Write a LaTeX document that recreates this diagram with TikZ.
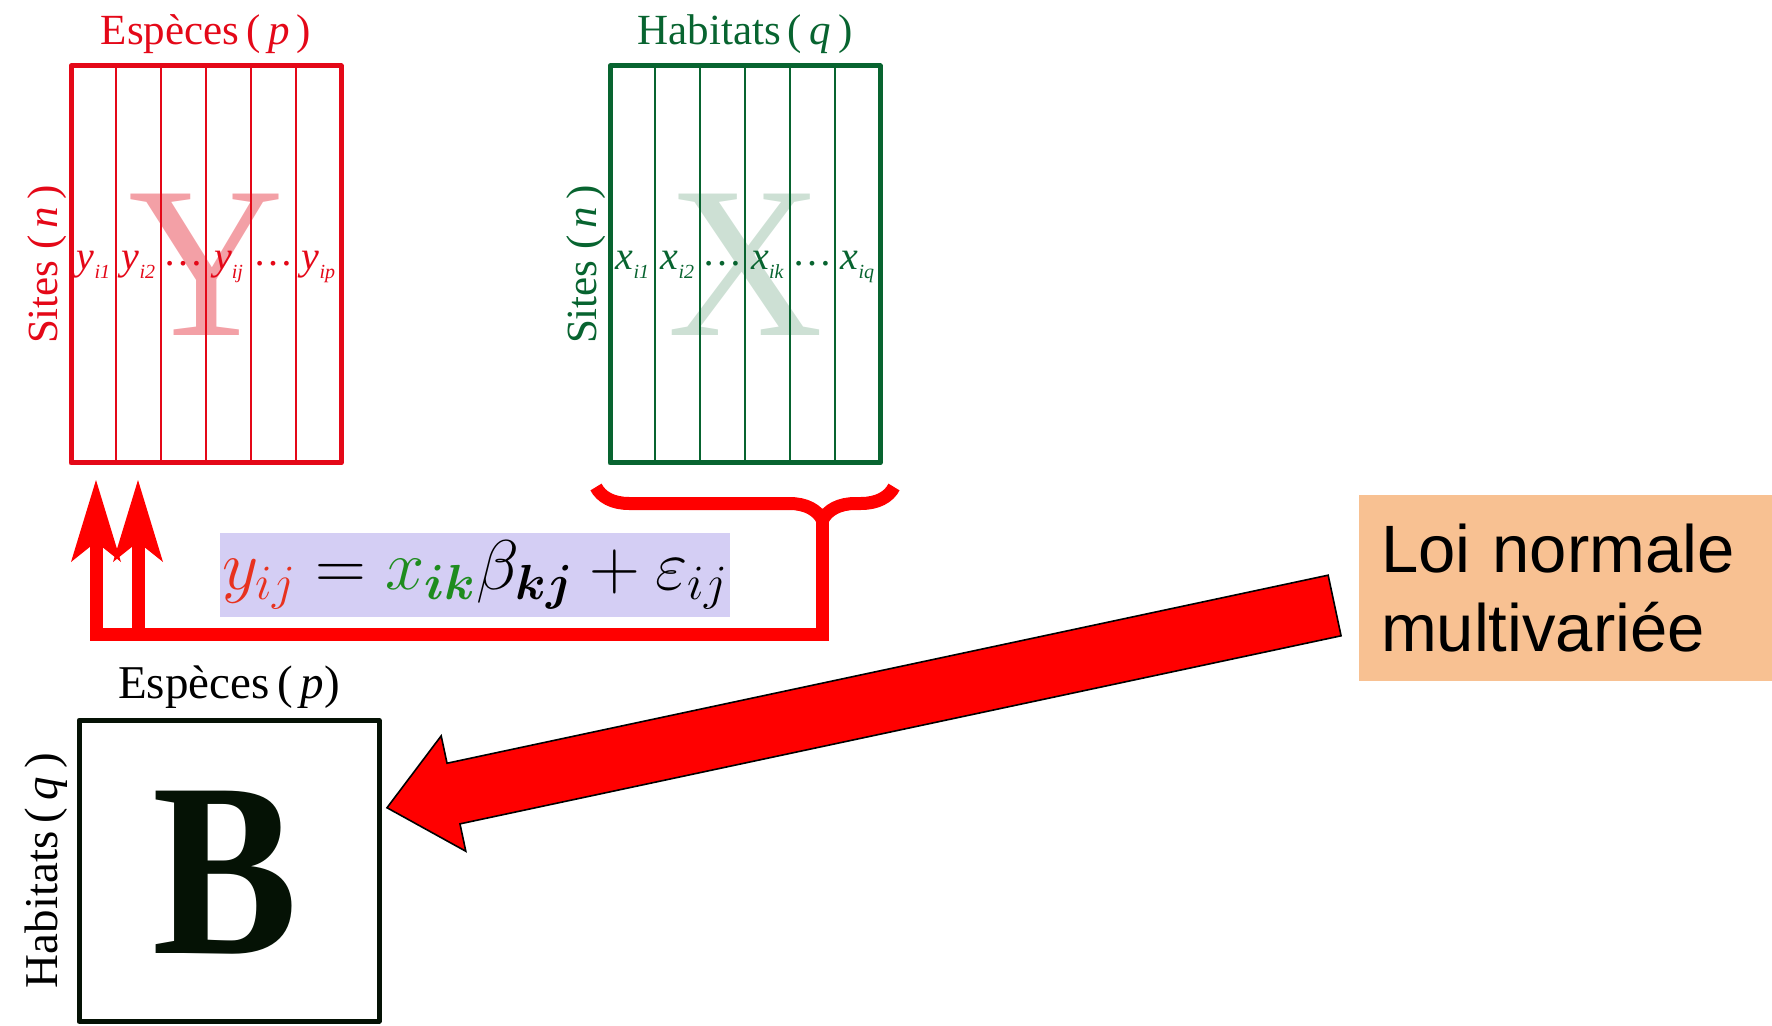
\RequirePackage{fix-cm}
\documentclass[tikz,border=0pt]{standalone}
\usepackage{amsmath,amssymb,bm}
\usepackage{graphicx}
\usepackage{fontspec}
\setmainfont{Liberation Serif}
\newfontfamily\arialfont{Liberation Sans}
\usepackage{xcolor}
\usepackage{tikz}
\usetikzlibrary{positioning, arrows.meta, calc, decorations.pathreplacing}

\definecolor{matred}{RGB}{228,8,24}
\definecolor{matgreen}{RGB}{8,100,48}
\definecolor{ypink}{RGB}{243,160,166}
\definecolor{xpale}{RGB}{205,224,212}
\definecolor{eqviolet}{RGB}{212,206,244}
\definecolor{eqred}{RGB}{232,50,30}
\definecolor{eqgreen}{RGB}{30,140,30}
\definecolor{loipeach}{RGB}{248,193,146}
\definecolor{bdark}{RGB}{5,18,5}

% matrix entry: letter with lowered index
\newcommand{\ent}[2]{\textit{#1}\raisebox{-4.5pt}{\fontsize{10}{10}\selectfont\textit{#2}}}
\newcommand{\entdots}{\raisebox{2pt}{\dots}}

\begin{document}
\begin{tikzpicture}[x=0.5pt, y=-0.5pt,
  matbox/.style={draw, line width=2.5pt, line join=round, minimum width=135pt, minimum height=198.5pt, inner sep=0pt, outer sep=0pt},
  colline/.style={line width=1pt},
  bigletter/.style={font=\fontsize{108}{108}\selectfont, inner sep=0pt},
  entry/.style={font=\fontsize{20}{20}\selectfont, anchor=base, inner sep=0pt},
  title/.style={font=\fontsize{21.5}{21.5}\selectfont, anchor=base, inner sep=0pt},
  sidelabel/.style={font=\fontsize{21.5}{21.5}\selectfont, rotate=90, anchor=base, inner sep=0pt},
  flow/.style={draw=red, line width=6.5pt},
  flowtip/.style={-{Stealth[length=41pt, width=25pt, inset=10pt, line width=0pt]}},
  eqbox/.style={fill=eqviolet, minimum width=255pt, minimum height=42pt, inner sep=0.5pt, font=\fontsize{35.2}{35.2}\selectfont},
  loibox/.style={fill=loipeach, minimum height=93pt, text width=184.5pt, inner xsep=11pt, align=left, font=\arialfont\fontsize{33.5}{39.5}\selectfont}
]
  \useasboundingbox (0,0) rectangle (1772,1026);

  % Y matrix
  \node[matbox, draw=matred] (ymat) at (206,264.5) {};
  \node[bigletter, text=ypink] at (ymat.center) {Y};
  \foreach \i in {1,...,5}
    \draw[colline, matred] ($(ymat.north west)!\i/6!(ymat.north east)$) -- ($(ymat.south west)!\i/6!(ymat.south east)$);
  \foreach \e [count=\i] in {\ent{y}{i1}, \ent{y}{i2}, \entdots, \ent{y}{ij}, \entdots, \ent{y}{ip}}
    \node[entry, text=matred] at ($(ymat.west)!{(\i-0.5)/6}!(ymat.east)+(0,5.5)$) {\e};
  \node[title, text=matred] (ytitle) at ([yshift=10.5pt]ymat.north) {Espèces\,(\,\textit{p}\,)};
  \node[sidelabel, text=matred] (ysites) at ([xshift=-7pt]ymat.west) {Sites (\,\textit{n}\,)};

  % X matrix
  \node[matbox, draw=matgreen] (xmat) at (745,264.5) {};
  \node[bigletter, text=xpale] at (xmat.center) {X};
  \foreach \i in {1,...,5}
    \draw[colline, matgreen] ($(xmat.north west)!\i/6!(xmat.north east)$) -- ($(xmat.south west)!\i/6!(xmat.south east)$);
  \foreach \e [count=\i] in {\ent{x}{i1}, \ent{x}{i2}, \entdots, \ent{x}{ik}, \entdots, \ent{x}{iq}}
    \node[entry, text=matgreen] at ($(xmat.west)!{(\i-0.5)/6}!(xmat.east)+(0,5.5)$) {\e};
  \node[title, text=matgreen] (xtitle) at ([yshift=10.5pt]xmat.north) {Habitats\,(\,\textit{q}\,)};
  \node[sidelabel, text=matgreen] (xsites) at ([xshift=-7pt]xmat.west) {Sites (\,\textit{n}\,)};

  % B matrix
  \node[draw=bdark, line width=2.5pt, line join=round, minimum width=150pt, minimum height=150.5pt, inner sep=0pt, outer sep=0pt] (bmat) at (229,870.75) {};
  \node[font=\bfseries\fontsize{124}{124}\selectfont, text=bdark, inner sep=0pt] at ([xshift=-2pt,yshift=-1pt]bmat.center) {\scalebox{0.88}[1]{B}};
  \node[title, font=\fontsize{23.5}{23.5}\selectfont] (btitle) at ([yshift=11pt]bmat.north) {Espèces\,(\,\textit{p})};
  \node[sidelabel, font=\fontsize{23.5}{23.5}\selectfont] (bhab) at ([xshift=-11pt]bmat.west) {Habitats\,(\,\textit{q}\,)};

  % model
  \node[eqbox] (eq) at (475,575) {${\color{eqred}y_{ij}} = {\color{eqgreen}x_{\bm{ik}}}\beta_{\bm{kj}} + \varepsilon_{ij}$};
  \node[loibox] (loi) at (1565.5,588) {Loi normale\\multivariée};

  % brace and feedback
  \coordinate (bl) at ([xshift=-7pt,yshift=-12pt]xmat.south west);
  \coordinate (br) at ([xshift=7pt,yshift=-12pt]xmat.south east);
  \draw[flow, decorate, decoration={brace, mirror, amplitude=16.5pt, aspect=0.76}] (bl) -- (br);
  \coordinate (btip) at ($(bl)!0.76!(br)+(0,33)$);
  \coordinate (ybase) at ([yshift=-8.5pt]eq.south);
  \coordinate (a1) at ([xshift=12.5pt,yshift=-8.5pt]ymat.south west);
  \coordinate (a2) at ([xshift=33.5pt,yshift=-8.5pt]ymat.south west);
  \draw[flow, line cap=rect] (btip) |- (a1 |- ybase);
  \draw[flow, flowtip] (a1 |- ybase) ++(0,6.5) -- (a1);
  \draw[flow, flowtip] (a2 |- ybase) ++(0,6.5) -- (a2);

  % block arrow
  \coordinate (atail) at ([xshift=-12pt,yshift=-8.75pt]loi.west);
  \coordinate (atip) at ([xshift=4pt,yshift=31.5pt]bmat.east);
  \coordinate (hb) at ($(atip)!34pt!(atail)$);
  \filldraw[fill=red, draw=black, line width=0.8pt, line join=miter]
    ($(atail)!15.5pt!90:(atip)$) -- ($(hb)!15.5pt!-90:(atail)$) -- ($(hb)!29.5pt!-90:(atail)$) -- (atip)
    -- ($(hb)!29.5pt!90:(atail)$) -- ($(hb)!15.5pt!90:(atail)$) -- ($(atail)!15.5pt!-90:(atip)$) -- cycle;

\end{tikzpicture}
\end{document}
